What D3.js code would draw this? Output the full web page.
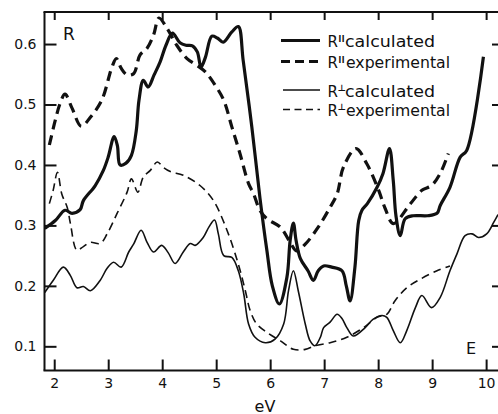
<!DOCTYPE html>
<html>
<head>
<meta charset="utf-8">
<script src="https://cdn.jsdelivr.net/npm/d3@7"></script>
<style>
  body { margin: 0; background: #fff; }
  svg { display: block; }
  text { font-family: "DejaVu Sans", sans-serif; fill: #111; }
</style>
</head>
<body>
<svg id="chart" width="498" height="414"></svg>
<script>
// Reflectance spectra: parallel / perpendicular polarisation, calculated vs experimental
// Each point is [photon energy (eV), reflectance R]

const rParCalc = [
  [1.824, 0.295], [2.02, 0.308], [2.20, 0.325], [2.33, 0.320], [2.48, 0.326],
  [2.54, 0.341], [2.76, 0.366], [2.91, 0.391], [3.00, 0.413], [3.11, 0.447],
  [3.17, 0.432], [3.22, 0.400], [3.33, 0.403], [3.43, 0.416], [3.52, 0.457],
  [3.57, 0.507], [3.65, 0.540], [3.74, 0.529], [3.85, 0.549], [3.96, 0.570],
  [4.07, 0.598], [4.19, 0.618], [4.33, 0.602], [4.44, 0.598], [4.56, 0.597],
  [4.65, 0.587], [4.72, 0.562], [4.80, 0.578], [4.92, 0.613], [5.02, 0.610],
  [5.13, 0.603], [5.29, 0.620], [5.41, 0.629], [5.50, 0.573], [5.66, 0.463],
  [5.81, 0.346], [5.94, 0.258], [6.04, 0.200], [6.17, 0.170], [6.31, 0.214],
  [6.37, 0.275], [6.43, 0.304], [6.48, 0.275], [6.56, 0.245], [6.70, 0.225],
  [6.80, 0.209], [6.89, 0.225], [6.99, 0.233], [7.14, 0.231], [7.33, 0.225],
  [7.41, 0.200], [7.48, 0.175], [7.57, 0.231], [7.64, 0.308], [7.70, 0.325],
  [7.80, 0.336], [7.98, 0.363], [8.09, 0.386], [8.21, 0.427], [8.28, 0.374],
  [8.33, 0.316], [8.41, 0.283], [8.50, 0.311], [8.65, 0.316], [8.91, 0.316],
  [9.09, 0.320], [9.15, 0.333], [9.33, 0.363], [9.52, 0.413], [9.64, 0.424],
  [9.95, 0.579]
];

const rParExp = [
  [1.91, 0.433], [2.02, 0.474], [2.11, 0.502], [2.20, 0.517], [2.33, 0.494],
  [2.50, 0.464], [2.67, 0.479], [2.88, 0.507], [3.07, 0.562], [3.15, 0.576],
  [3.24, 0.560], [3.35, 0.549], [3.47, 0.551], [3.59, 0.582], [3.72, 0.593],
  [3.84, 0.615], [3.94, 0.643], [4.09, 0.626], [4.27, 0.598], [4.46, 0.576],
  [4.64, 0.565], [4.80, 0.554], [4.98, 0.532], [5.14, 0.507], [5.29, 0.463],
  [5.44, 0.419], [5.60, 0.369], [5.69, 0.353], [5.81, 0.325], [5.94, 0.311],
  [6.19, 0.297], [6.37, 0.272], [6.49, 0.258], [6.65, 0.269], [6.89, 0.297],
  [7.11, 0.330], [7.24, 0.352], [7.36, 0.397], [7.59, 0.427], [7.79, 0.402],
  [8.01, 0.358], [8.13, 0.328], [8.28, 0.303], [8.59, 0.335], [8.81, 0.358],
  [8.99, 0.366], [9.15, 0.386], [9.30, 0.419]
];

const rPerpCalc = [
  [1.824, 0.189], [1.98, 0.209], [2.17, 0.231], [2.30, 0.217], [2.42, 0.197],
  [2.54, 0.199], [2.67, 0.192], [2.85, 0.209], [2.98, 0.229], [3.10, 0.239],
  [3.24, 0.231], [3.38, 0.256], [3.47, 0.269], [3.61, 0.292], [3.72, 0.272],
  [3.84, 0.256], [3.99, 0.267], [4.11, 0.255], [4.24, 0.237], [4.39, 0.256],
  [4.52, 0.270], [4.61, 0.267], [4.76, 0.280], [4.87, 0.298], [4.97, 0.309],
  [5.04, 0.286], [5.14, 0.250], [5.29, 0.247], [5.41, 0.225], [5.51, 0.187],
  [5.60, 0.137], [5.72, 0.115], [5.91, 0.106], [6.09, 0.112], [6.25, 0.137],
  [6.34, 0.192], [6.43, 0.225], [6.52, 0.192], [6.65, 0.137], [6.74, 0.109],
  [6.83, 0.101], [6.93, 0.115], [6.99, 0.131], [7.11, 0.140], [7.24, 0.153],
  [7.33, 0.146], [7.42, 0.131], [7.54, 0.117], [7.76, 0.131], [7.91, 0.145],
  [8.07, 0.151], [8.16, 0.148], [8.28, 0.126], [8.41, 0.106], [8.53, 0.126],
  [8.69, 0.164], [8.81, 0.184], [8.99, 0.164], [9.15, 0.181], [9.33, 0.225],
  [9.46, 0.253], [9.61, 0.283], [9.74, 0.286], [9.86, 0.280], [10.01, 0.286],
  [10.14, 0.305], [10.22, 0.318]
];

const rPerpExp = [
  [1.91, 0.336], [1.98, 0.358], [2.06, 0.388], [2.14, 0.352], [2.24, 0.330],
  [2.30, 0.303], [2.42, 0.259], [2.54, 0.265], [2.67, 0.272], [2.85, 0.270],
  [2.98, 0.286], [3.16, 0.319], [3.35, 0.355], [3.43, 0.377], [3.55, 0.355],
  [3.65, 0.380], [3.78, 0.391], [3.91, 0.405], [4.02, 0.396], [4.15, 0.389],
  [4.39, 0.383], [4.70, 0.366], [4.95, 0.341], [5.20, 0.292], [5.41, 0.236],
  [5.54, 0.192], [5.63, 0.159], [5.75, 0.137], [5.94, 0.123], [6.19, 0.109],
  [6.43, 0.095], [6.65, 0.095], [6.83, 0.101], [7.11, 0.106], [7.42, 0.115],
  [7.73, 0.131], [7.98, 0.148], [8.16, 0.153], [8.31, 0.175], [8.53, 0.197],
  [8.78, 0.211], [9.09, 0.225], [9.33, 0.233]
];

const xTicks = [2, 3, 4, 5, 6, 7, 8, 9, 10];
const yTicks = [0.1, 0.2, 0.3, 0.4, 0.5, 0.6];
const legendSymbols = ["ll", "ll", "\u22A5", "\u22A5"];
const legendWords = ["calculated", "experimental", "calculated", "experimental"];

const svg = d3.select("#chart");

const x = d3.scaleLinear().domain([1.82, 10.22]).range([44.5, 498]);
const y = d3.scaleLinear().domain([0.06, 0.653]).range([370.5, 12]);

const ink = "#111";

// frame
const frame = svg.append("g").attr("stroke", ink).attr("stroke-width", 2).attr("fill", "none");
frame.append("line").attr("x1", x.range()[0]).attr("x2", x.range()[0]).attr("y1", y.range()[1]).attr("y2", y.range()[0]);
frame.append("line").attr("x1", x.range()[0] - 1).attr("x2", x.range()[1]).attr("y1", y.range()[0]).attr("y2", y.range()[0]);
frame.append("line").attr("x1", x.range()[0] - 1).attr("x2", x.range()[1]).attr("y1", y.range()[1]).attr("y2", y.range()[1]);

function styleAxis(g) {
  g.select(".domain").remove();
  g.selectAll(".tick line").attr("stroke", ink).attr("stroke-width", 2);
  g.selectAll(".tick text").attr("fill", ink).style("font-size", "14px")
    .style("font-family", "DejaVu Sans, sans-serif");
}

svg.append("g")
  .attr("transform", `translate(0,${y.range()[0]})`)
  .call(d3.axisBottom(x).tickValues(xTicks).tickSize(-11).tickPadding(8).tickFormat(d3.format("d")))
  .call(styleAxis);

svg.append("g")
  .attr("transform", `translate(0,${y.range()[1]})`)
  .call(d3.axisTop(x).tickValues(xTicks).tickSize(-8).tickFormat(""))
  .call(styleAxis);

svg.append("g")
  .attr("transform", `translate(${x.range()[0]},0)`)
  .call(d3.axisLeft(y).tickValues(yTicks).tickSize(-12).tickPadding(8).tickFormat(d3.format(".1f")))
  .call(styleAxis);

svg.append("g")
  .attr("transform", `translate(${x.range()[1]},0)`)
  .call(d3.axisRight(y).tickValues(yTicks).tickSize(-6).tickFormat(""))
  .call(styleAxis);

// curves
const line = d3.line()
  .x(d => x(d[0]))
  .y(d => y(d[1]))
  .curve(d3.curveCatmullRom.alpha(0.5));

const series = [
  { data: rParCalc, width: 3.2, dash: null },
  { data: rParExp, width: 3.2, dash: "10,6" },
  { data: rPerpCalc, width: 1.6, dash: null },
  { data: rPerpExp, width: 1.6, dash: "8,5" }
];

svg.append("g").selectAll("path")
  .data(series)
  .join("path")
  .attr("d", d => line(d.data))
  .attr("fill", "none")
  .attr("stroke", ink)
  .attr("stroke-width", d => d.width)
  .attr("stroke-dasharray", d => d.dash)
  .attr("stroke-linejoin", "round");

// legend
const legendRowY = [40.5, 61.5, 90, 109.5];
const legend = svg.append("g");
const rows = legend.selectAll("g")
  .data(series)
  .join("g")
  .attr("transform", (d, i) => `translate(0,${legendRowY[i]})`);

rows.append("line")
  .attr("x1", (d, i) => i < 2 ? 281 : 283)
  .attr("x2", 320)
  .attr("y1", 0).attr("y2", 0)
  .attr("stroke", ink)
  .attr("stroke-width", d => d.width)
  .attr("stroke-dasharray", (d, i) => i === 1 ? "9,5" : (i === 3 ? "7,4.5" : null));

rows.append("text")
  .attr("x", 327.5).attr("y", 6.5)
  .style("font-size", "15px")
  .text("R");
rows.append("text")
  .attr("x", (d, i) => i < 2 ? 338.5 : 337.5)
  .attr("y", (d, i) => i < 2 ? 1.5 : 0.5)
  .style("font-size", (d, i) => i < 2 ? "8px" : "9px")
  .style("font-weight", "bold")
  .style("letter-spacing", (d, i) => i < 2 ? "0.6px" : null)
  .text((d, i) => legendSymbols[i]);
rows.append("text")
  .attr("x", (d, i) => i % 2 === 0 ? 345 : 346)
  .attr("y", 6.5)
  .style("font-size", "15px")
  .attr("textLength", (d, i) => i % 2 === 0 ? 90 : 104)
  .attr("lengthAdjust", "spacingAndGlyphs")
  .text((d, i) => legendWords[i]);

// annotations
svg.append("text").attr("x", 63).attr("y", 40).style("font-size", "17px").text("R");
svg.append("text").attr("x", 466).attr("y", 353.5).style("font-size", "16px").text("E");
svg.append("text").attr("x", 265).attr("y", 411.5).attr("text-anchor", "middle")
  .style("font-size", "16px").text("eV");
</script>
</body>
</html>
